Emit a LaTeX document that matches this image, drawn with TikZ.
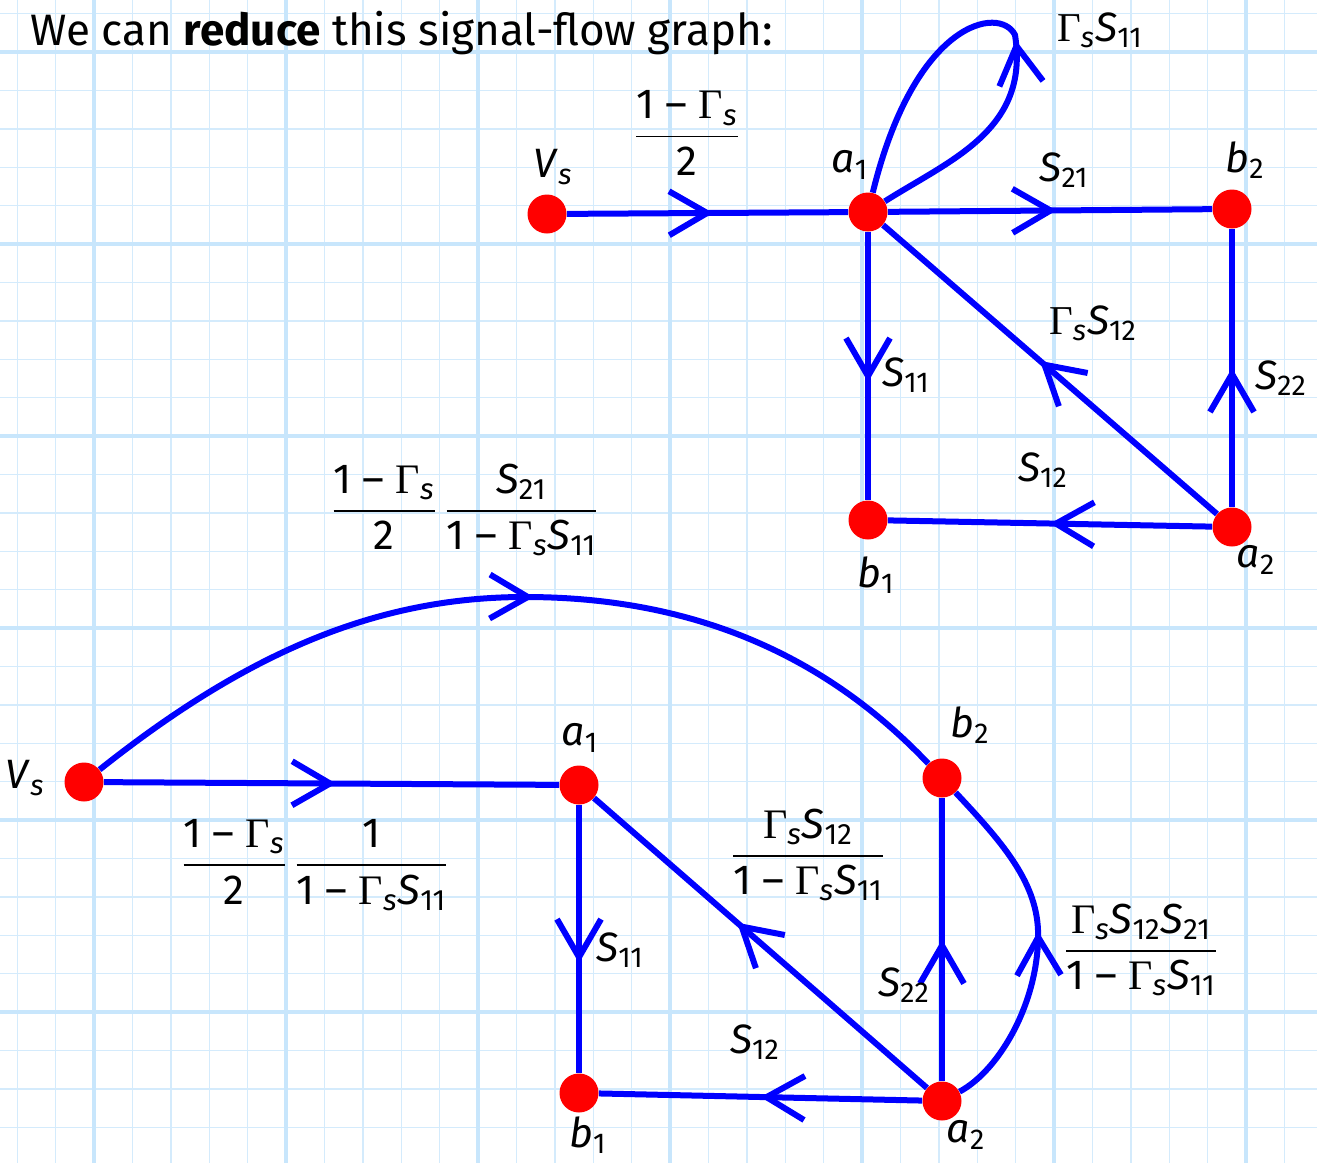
\documentclass[tikz,border=0pt]{standalone}
\usepackage{amsmath}
\usepackage{fontspec}
\setmainfont{Fira Sans}
\newfontfamily\grk{Liberation Serif}
\usepackage{xcolor}
\usepackage{tikz}
\usetikzlibrary{arrows.meta,decorations.markings}

\definecolor{sfblue}{RGB}{0,0,255}
\definecolor{gridminor}{RGB}{212,235,252}
\definecolor{gridmajor}{RGB}{200,230,252}

\newcommand{\Gs}{{\grk Γ}\textsubscript{\itshape s}}
\newcommand{\Spar}[1]{\textit{S}\textsubscript{#1}}
\newcommand{\vlab}[2]{\textit{#1}\textsubscript{#2}}

\begin{document}
\begin{tikzpicture}[
			x=0.5pt, y=-0.5pt,
			vtx/.style={circle,fill=red,minimum size=19.5pt,inner sep=0pt},
			flow/.style={draw=sfblue,line width=3pt},
			midarrow/.style={postaction={decorate},decoration={markings,
				mark=at position #1 with {\arrow{Straight Barb[length=19pt,width=22pt,line width=3pt]}}}},
			lbl/.style={font=\fontsize{20.5}{24}\selectfont,inner sep=0pt},
			frac/.style={font=\fontsize{21}{25}\selectfont,inner sep=0pt}
			]
			\useasboundingbox (0,0) rectangle (1317,1163);
			\fill[white] (0,0) rectangle (1317,1163);
			% grid paper
			\foreach \k in {-2,...,32} {
				\pgfmathsetmacro\gx{94+38.4*\k}
				\draw[gridminor,line width=0.7pt] (\gx,0) -- (\gx,1163);
			}
			\foreach \k in {-1,...,29} {
				\pgfmathsetmacro\gy{52+38.4*\k}
				\draw[gridminor,line width=0.7pt] (0,\gy) -- (1317,\gy);
			}
			\foreach \gx in {94,286,478,670,862,1054,1246}
				\draw[gridmajor,line width=1.8pt] (\gx,0) -- (\gx,1163);
			\foreach \gy in {52,244,436,628,820,1012}
				\draw[gridmajor,line width=1.8pt] (0,\gy) -- (1317,\gy);

			\node[anchor=base west,inner sep=0pt,font=\fontsize{22}{26}\selectfont] (title) at (30,45) {We can \textbf{reduce} this signal-flow graph:};

			% original graph
			\node[vtx] (vs) at (547,214) {};
			\node[vtx] (a1) at (868,212) {};
			\node[vtx] (b2) at (1232,209) {};
			\node[vtx] (b1) at (868,520) {};
			\node[vtx] (a2) at (1232,527) {};

			\draw[flow,midarrow=0.52] (vs)--(a1);
			\draw[flow,midarrow=0.52] (a1)--(b2);
			\draw[flow,midarrow=0.56] (a1)--(b1);
			\draw[flow,midarrow=0.53] (a2)--(a1);
			\draw[flow,midarrow=0.5] (a2)--(b2);
			\draw[flow,midarrow=0.5] (a2)--(b1);
			\draw[flow,midarrow=0.47] (a1) .. controls (950,160) and (1030,130) .. (1015,35)
				.. controls (1000,5) and (915,20) .. (a1);

			\node[lbl] (vs-l) at (553,167) {\vlab{V}{\itshape s}};
			\node[lbl] (a1-l) at (850,165) {\vlab{a}{1}};
			\node[lbl] (b2-l) at (1245,160) {\vlab{b}{2}};
			\node[lbl] (b1-l) at (876,575) {\vlab{b}{1}};
			\node[lbl] (a2-l) at (1256,560) {\vlab{a}{2}};
			\node[frac] (g1) at (687,133) {$\dfrac{\text{1 – \Gs}}{\text{2}}$};
			\node[lbl] (gloop) at (1100,30) {\Gs\Spar{11}};
			\node[lbl] (g21) at (1064,170) {\Spar{21}};
			\node[lbl] (g11) at (906,375) {\Spar{11}};
			\node[lbl] (gd) at (1093,323) {\Gs\Spar{12}};
			\node[lbl] (g22) at (1281,378) {\Spar{22}};
			\node[lbl] (g12) at (1043,470) {\Spar{12}};

			% reduced graph
			\node[vtx] (rvs) at (84,782) {};
			\node[vtx] (ra1) at (579,785) {};
			\node[vtx] (rb2) at (942,778) {};
			\node[vtx] (rb1) at (579,1093) {};
			\node[vtx] (ra2) at (942,1101) {};

			\draw[flow,midarrow=0.51] (rvs)--(ra1);
			\draw[flow,midarrow=0.52] (rvs) .. controls (250,650) and (380,597) .. (525,597)
				.. controls (700,597) and (830,660) .. (rb2);
			\draw[flow,midarrow=0.59] (ra1)--(rb1);
			\draw[flow,midarrow=0.57] (ra2)--(ra1);
			\draw[flow,midarrow=0.5] (ra2)--(rb2);
			\draw[flow,midarrow=0.5] (ra2)--(rb1);
			\draw[flow,midarrow=0.53] (ra2) .. controls (1000,1070) and (1040,1000) .. (1038,930)
				.. controls (1036,880) and (1000,840) .. (rb2);

			\node[lbl] (rvs-l) at (25,778) {\vlab{V}{\itshape s}};
			\node[lbl] (ra1-l) at (580,738) {\vlab{a}{1}};
			\node[lbl] (rb2-l) at (970,725) {\vlab{b}{2}};
			\node[lbl] (rb1-l) at (588,1135) {\vlab{b}{1}};
			\node[lbl] (ra2-l) at (966,1135) {\vlab{a}{2}};
			\node[frac] (rg1) at (465,510) {$\dfrac{\text{1 – \Gs}}{\text{2}}\,\dfrac{\text{\Spar{21}}}{\text{1 – \Gs\Spar{11}}}$};
			\node[frac] (rg2) at (315,865) {$\dfrac{\text{1 – \Gs}}{\text{2}}\,\dfrac{\text{1}}{\text{1 – \Gs\Spar{11}}}$};
			\node[lbl] (rg11) at (620,950) {\Spar{11}};
			\node[frac] (rgd) at (808,855) {$\dfrac{\text{\Gs\Spar{12}}}{\text{1 – \Gs\Spar{11}}}$};
			\node[lbl] (rg22) at (904,985) {\Spar{22}};
			\node[frac] (rgb) at (1141,950) {$\dfrac{\text{\Gs\Spar{12}\Spar{21}}}{\text{1 – \Gs\Spar{11}}}$};
			\node[lbl] (rg12) at (755,1042) {\Spar{12}};
		\end{tikzpicture}
\end{document}
